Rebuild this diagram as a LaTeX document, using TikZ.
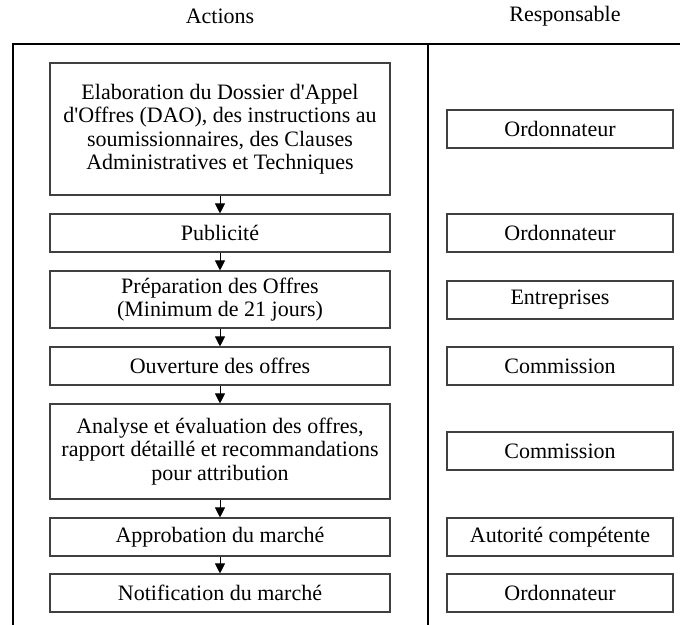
\documentclass[tikz,border=0pt]{standalone}
\usepackage{fontspec}
\setmainfont{Liberation Serif}
\usetikzlibrary{arrows.meta}
\newcommand{\sq}{\textquotesingle}
\begin{document}
\begin{tikzpicture}[x=1pt,y=-1pt,
  txt/.style={font=\fontsize{22}{23.5}\selectfont, align=center},
  act/.style={txt, draw=black!75, line width=1.1pt, minimum width=340pt, inner sep=0pt},
  resp/.style={txt, draw=black!75, line width=1.1pt, minimum width=226pt, minimum height=38pt, inner sep=0pt},
  flow/.style={-{Triangle[length=10pt,width=10pt]}, line width=1pt},
  frame/.style={line width=2.4pt}]
\useasboundingbox (0,0) rectangle (680,624);

% column headings
\node[txt] (h1) at (220,16) {Actions};
\node[txt] (h2) at (565,16) {Responsable};

% table frame
\draw[frame] (12.7,630) -- (12.7,44) -- (690,44);
\draw[frame] (428,44) -- (428,630);

% actions
\node[act, minimum height=132pt] (a1) at (220,129) {Elaboration du Dossier d\sq Appel\\d\sq Offres (DAO), des instructions au\\soumissionnaires, des Clauses\\Administratives et Techniques};
\node[act, minimum height=38pt] (a2) at (220,233) {Publicité};
\node[act, minimum height=57pt] (a3) at (220,299.5) {Préparation des Offres\\(Minimum de 21 jours)};
\node[act, minimum height=38pt] (a4) at (220,366) {Ouverture des offres};
\node[act, minimum height=95pt] (a5) at (220,451.5) {Analyse et évaluation des offres,\\rapport détaillé et recommandations\\pour attribution};
\node[act, minimum height=38pt] (a6) at (220,537) {Approbation du marché};
\node[act, minimum height=38pt] (a7) at (220,593) {Notification du marché};

% responsible parties
\node[resp] (r1) at (560,129) {Ordonnateur};
\node[resp] (r2) at (560,233) {Ordonnateur};
\node[resp] (r3) at (560,300) {Entreprises};
\node[resp] (r4) at (560,366) {Commission};
\node[resp] (r5) at (560,451) {Commission};
\node[resp] (r6) at (560,537) {Autorité compétente};
\node[resp] (r7) at (560,593) {Ordonnateur};

% sequence of actions
\draw[flow] (a1.south) -- (a2.north);
\draw[flow] (a2.south) -- (a3.north);
\draw[flow] (a3.south) -- (a4.north);
\draw[flow] (a4.south) -- (a5.north);
\draw[flow] (a5.south) -- (a6.north);
\draw[flow] (a6.south) -- (a7.north);
\end{tikzpicture}
\end{document}
